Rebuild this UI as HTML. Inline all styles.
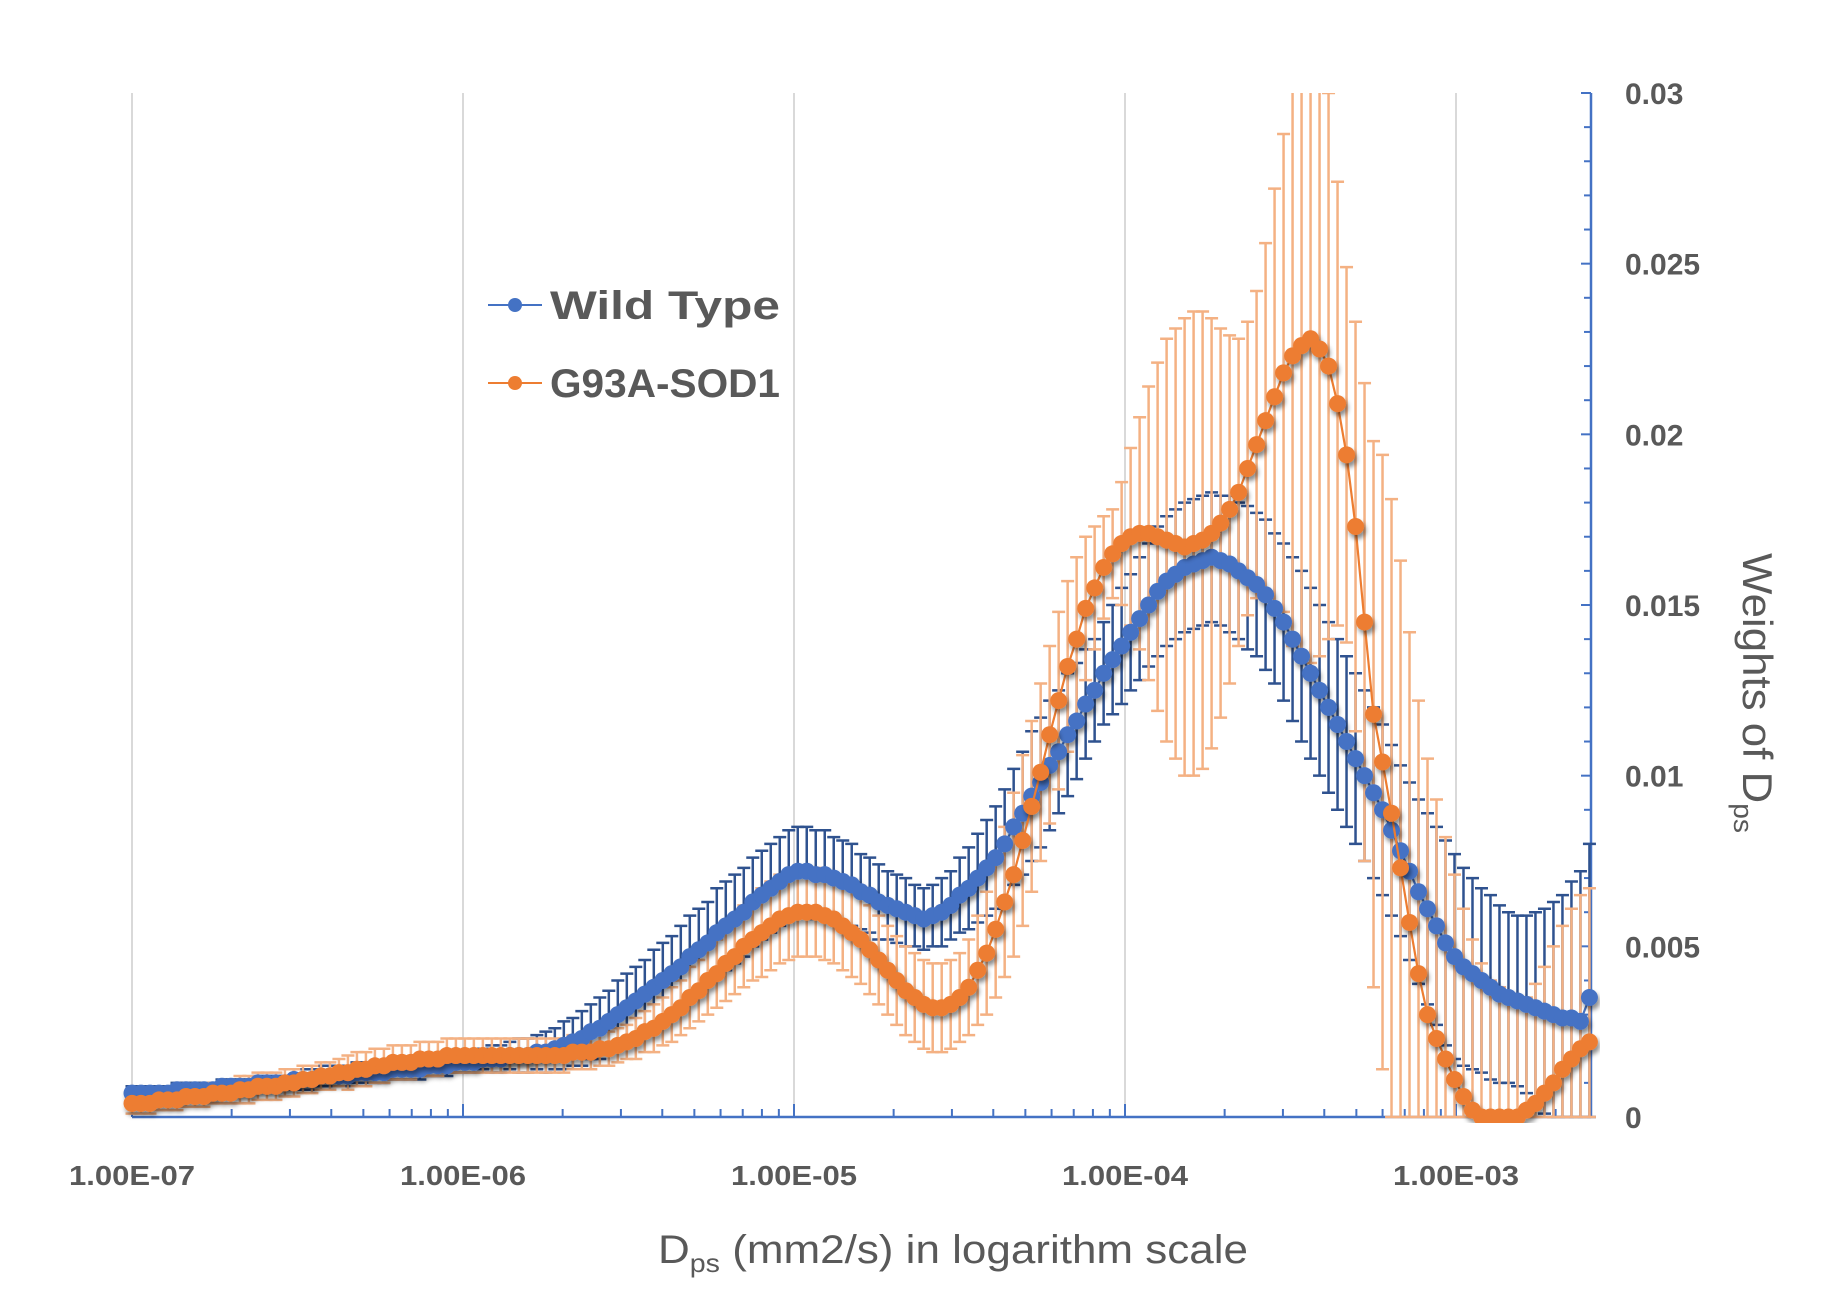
<!DOCTYPE html>
<html><head><meta charset="utf-8"><style>
html,body{margin:0;padding:0;background:#fff;}
svg{display:block;font-family:"Liberation Sans",sans-serif;}
</style></head><body>
<svg id="chart" width="1834" height="1310" viewBox="0 0 1834 1310" xmlns="http://www.w3.org/2000/svg">
<defs>
<clipPath id="plotClip"><rect x="100" y="93" width="1500" height="1030"/></clipPath>
<filter id="shadow" x="-50%" y="-50%" width="200%" height="200%"><feDropShadow dx="2" dy="4" stdDeviation="2.5" flood-color="#000" flood-opacity="0.45"/></filter>
</defs>
<g id="grid"></g>
<g id="axes"></g>
<g id="plot" clip-path="url(#plotClip)"></g>
<g>
  <g>
    <line x1="488" y1="305" x2="542" y2="305" stroke="#4472c4" stroke-width="2"/>
    <circle cx="515" cy="305" r="7" fill="#4472c4"/>
    <text x="550" y="319" font-size="40" font-weight="bold" fill="#595959" textLength="230" lengthAdjust="spacingAndGlyphs">Wild Type</text>
  </g>
  <g>
    <line x1="488" y1="383" x2="542" y2="383" stroke="#ed7d31" stroke-width="2"/>
    <circle cx="515" cy="383" r="7" fill="#ed7d31"/>
    <text x="550" y="397" font-size="40" font-weight="bold" fill="#595959" textLength="230" lengthAdjust="spacingAndGlyphs">G93A-SOD1</text>
  </g>
</g>
<text x="658" y="1263" font-size="40" fill="#595959" textLength="590" lengthAdjust="spacingAndGlyphs">D<tspan font-size="26" dy="9">ps</tspan><tspan dy="-9"> (mm2/s) in logarithm scale</tspan></text>
<text transform="translate(1743,553) rotate(90)" font-size="42" fill="#595959" textLength="280" lengthAdjust="spacingAndGlyphs">Weights of D<tspan font-size="27" dy="9">ps</tspan></text>
</svg>
<script>
const xTickLabels = ["1.00E-07","1.00E-06","1.00E-05","1.00E-04","1.00E-03"];
const xTickLogs = [-7,-6,-5,-4,-3];
const yTickLabels = ["0","0.005","0.01","0.015","0.02","0.025","0.03"];
const yTickValues = [0,0.005,0.01,0.015,0.02,0.025,0.03];
const logStart = -7;
const logStep = 0.02718;
const blueMean = [.0007,.0007,.0007,.0007,.0007,.0008,.0008,.0008,.0008,.0008,
.0009,.0009,.0009,.0009,.001,.001,.001,.001,.0011,.0011,
.0011,.0012,.0012,.0012,.0012,.0013,.0013,.0013,.0013,.0014,
.0014,.0014,.0014,.0015,.0015,.0015,.0016,
.0016,.0016,.0017,.0017,.0017,.0018,.0018,.0018,.0019,.0019,
.002,.0021,.0022,.0023,.0025,.0026,.0028,.003,.0032,
.0034,.0036,.0038,.004,.0042,.0044,.0047,.0049,.0051,.0054,
.0056,.0058,.006,.0063,.0065,.0067,.0069,.0071,
.0072,.0072,.0071,.0071,.007,.0069,.0068,.0066,.0065,.0063,
.0062,.0061,.006,.0059,
.0058,.0059,.006,.0062,.0065,.0067,.007,.0073,.0076,.008,.0085,.0089,
.0094,.0098,.0103,.0107,.0112,.0116,.0121,.0125,.013,.0134,.0138,.0142,
.0146,.015,.0154,.0157,.0159,.0161,.0162,.0163,.0164,.0163,.0162,.016,.0158,.0156,.0153,
.0149,.0145,.014,.0135,.013,
.0125,.012,.0115,.011,.0105,.01,.0095,.009,
.0084,.0078,.0072,.0066,.0061,.0056,.0051,.0047,
.0044,.0042,.004,.0038,.0036,.0035,.0034,.0033,.0032,.0031,.003,.0029,.0029,.0028,.0035];
const blueErr = [.0002,.0002,.0002,.0002,.0002,.0002,.0002,.0002,.0002,.0002,.0002,.0002,.0002,.0002,.0002,.0002,.0002,.0002,
.0003,.0003,.0003,.0003,.0003,.0003,.0003,.0003,.0003,.0003,.0003,.0003,.0003,.0003,.0003,.0003,.0003,.0003,.0003,
.0003,.0003,.0003,.0004,.0004,.0004,.0005,.0005,.0005,.0006,.0006,.0007,.0007,.0008,.0008,.0009,.0009,.001,.001,
.001,.001,.0011,.0011,.0011,.0012,.0012,.0012,.0012,.0013,.0013,.0013,.0013,.0013,.0013,.0013,.0013,.0013,
.0013,.0013,.0013,.0013,.0012,.0012,.0012,.0011,.0011,.0011,.001,.001,.001,.0009,.0009,.0009,.001,.001,.0011,
.0012,.0013,.0014,.0015,.0016,.0017,.0018,.0019,.0019,.0019,.0018,.0018,.0017,.0016,.0015,.0015,.0016,.0017,
.0017,.0018,.0018,.0019,.0019,.0019,.0019,.0019,.0019,.0019,.0019,.002,.002,.0021,.0021,.0022,.0022,.0023,.0024,
.0025,.0025,.0025,.0025,.0025,.0025,.0025,.0025,.0025,.0025,.0025,.0025,.0026,.0027,.0028,.0029,.003,.003,
.0029,.0028,.0027,.0027,.0026,.0025,.0025,.0026,.0028,.003,.0033,.0036,.004,.0044,.0045];
const orangeMean = [.0004,.0004,.0004,.0005,.0005,.0005,.0006,.0006,.0006,.0007,
.0007,.0007,.0008,.0008,.0009,.0009,.0009,.001,.001,.0011,
.0011,.0012,.0012,.0013,.0013,.0014,.0014,.0015,.0015,.0016,
.0016,.0016,.0017,.0017,.0017,.0018,.0018,
.0018,.0018,.0018,.0018,.0018,.0018,.0018,.0018,.0018,.0018,
.0018,.0018,.0019,.0019,.0019,.002,.002,.0021,.0022,
.0023,.0025,.0026,.0028,.003,.0032,.0035,.0037,.004,.0042,
.0045,.0047,.005,.0052,.0054,.0056,.0058,.0059,
.006,.006,.006,.0059,.0058,.0056,.0054,.0052,.0049,.0046,
.0043,.004,.0037,.0035,.0033,.0032,.0032,.0033,.0035,
.0038,.0043,.0048,.0055,.0063,.0071,.0081,.0091,.0101,.0112,.0122,.0132,.014,.0149,.0155,.0161,.0165,.0168,.017,
.0171,.0171,.017,.0169,.0168,.0167,.0168,.0169,.0171,.0174,.0178,.0183,.019,.0197,.0204,.0211,.0218,.0223,.0226,.0228,.0225,.022,.0209,.0194,.0173,.0145,
.0118,.0104,.0089,.0073,.0057,.0042,.003,.0023,.0017,.0011,.0006,.0002,0,0,0,0,0,.0002,.0004,.0007,.001,.0014,.0017,.002,.0022];
const orangeErr = [.0003,.0003,.0003,.0003,.0003,.0003,.0003,.0003,.0003,.0003,.0003,.0003,
.0004,.0004,.0004,.0004,.0004,.0004,.0004,.0004,.0004,.0004,.0004,.0004,
.0005,.0005,.0005,.0005,.0005,.0005,.0005,.0005,.0005,.0005,.0005,.0005,.0005,
.0005,.0005,.0005,.0005,.0005,.0005,.0005,.0005,.0005,.0005,.0005,.0005,.0005,.0005,.0005,.0005,.0005,.0005,.0005,
.0006,.0006,.0007,.0007,.0008,.0008,.0009,.0009,.001,.001,.0011,.0011,.0012,.0012,.0013,.0013,.0013,.0013,
.0013,.0013,.0013,.0013,.0013,.0013,.0013,.0013,.0013,.0013,.0013,.0013,.0013,.0013,.0013,.0013,.0013,.0013,.0013,
.0014,.0016,.0018,.002,.0022,.0024,.0025,.0025,.0026,.0026,.0026,.0025,.0024,.0021,.0018,.0015,.0013,.0018,.0026,
.0034,.0043,.0051,.0059,.0063,.0067,.0068,.0067,.0063,.0057,.0051,.0045,.0043,.0045,.0052,.0061,.007,.0085,.009,.0095,.009,.008,.0065,.0055,.006,.007,
.008,.009,.0092,.009,.0085,.008,.0075,.007,.0065,.006,.0055,.005,.0045,.004,.0038,.0035,.0033,.0033,.0035,.0037,.004,.0042,.0044,.0045,.0045];

const NS = "http://www.w3.org/2000/svg";
const X0 = 132, DEC = 331, Y0 = 1117, YTOP = 93, XEND = 1591;
function xScale(lg){ return X0 + (lg + 7) * DEC; }
function yScale(v){ return Y0 - v / 0.03 * (Y0 - YTOP); }
function mk(tag, attrs, parent){ const e = document.createElementNS(NS, tag); for (const k in attrs) e.setAttribute(k, attrs[k]); parent.appendChild(e); return e; }

const grid = document.getElementById('grid');
const axes = document.getElementById('axes');
const plot = document.getElementById('plot');

xTickLogs.forEach((lg, k) => {
  const gl = mk('line', {x1: xScale(lg), x2: xScale(lg), y1: YTOP, y2: Y0, stroke: '#d9d9d9', 'stroke-width': 2}, grid);
  
  
  const t = mk('text', {x: xScale(lg), y: 1185, 'text-anchor': 'middle', 'font-size': 28, 'font-weight': 'bold', fill: '#595959', textLength: 126, lengthAdjust: 'spacingAndGlyphs'}, axes);
  t.textContent = xTickLabels[k];
  
  
});
const xl = mk('line', {x1: X0, x2: XEND, y1: Y0, y2: Y0, stroke: '#4472c4', 'stroke-width': 2.5}, axes);


for (let d = -7; d <= -3; d++) {
  for (let m = 1; m <= 9; m++) {
    const lg = d + Math.log10(m);
    const x = xScale(lg);
    if (x > XEND) continue;
    const len = m === 1 ? 13 : 8;
    const tk = mk('line', {x1: x, x2: x, y1: Y0, y2: Y0 - len, stroke: '#4472c4', 'stroke-width': 2}, axes);
    
    
  }
}
const yl = mk('line', {x1: XEND, x2: XEND, y1: YTOP, y2: Y0, stroke: '#4472c4', 'stroke-width': 2.5}, axes);


for (let j = 0; j <= 30; j++) {
  const y = yScale(j * 0.001);
  const len = j % 5 === 0 ? 10 : 7;
  const tk = mk('line', {x1: XEND - len, x2: XEND, y1: y, y2: y, stroke: '#4472c4', 'stroke-width': 2}, axes);
  
  
}
yTickValues.forEach((v, k) => {
  const t = mk('text', {x: 1625, y: yScale(v) + 11, 'font-size': 30, 'font-weight': 'bold', fill: '#595959'}, axes);
  t.textContent = yTickLabels[k];
  
  
});

function drawErr(means, errs, color, width, name) {
  const g = mk('g', {}, plot);
  
  
  means.forEach((m, i) => {
    const x = xScale(logStart + i * logStep);
    const yt = yScale(m + errs[i]), yb = yScale(Math.max(m - errs[i], 0));
    const p = mk('path', {d: `M${x},${yt}V${yb}M${x-6.5},${yt}H${x+6.5}M${x-6.5},${yb}H${x+6.5}`, stroke: color, 'stroke-width': width, fill: 'none'}, g);
    
    
  });
}
function drawSeries(means, color, name) {
  const g = mk('g', {}, plot);
  
  
  const pts = means.map((m, i) => xScale(logStart + i * logStep) + ',' + yScale(m)).join(' ');
  const pl = mk('polyline', {points: pts, fill: 'none', stroke: color, 'stroke-width': 2.2}, g);
  
  
  const mg = mk('g', {filter: 'url(#shadow)'}, g);
  
  
  means.forEach((m, i) => {
    const c = mk('circle', {cx: xScale(logStart + i * logStep), cy: yScale(m), r: 8.5, fill: color}, mg);
    
    
  });
}
drawErr(blueMean, blueErr, '#2f528f', 2.5, 'wild-type-error-bars');
drawErr(orangeMean, orangeErr, '#f4b183', 2.5, 'g93a-error-bars');
drawSeries(blueMean, '#4472c4', 'wild-type-series');
drawSeries(orangeMean, '#ed7d31', 'g93a-sod1-series');
</script>
</body></html>
